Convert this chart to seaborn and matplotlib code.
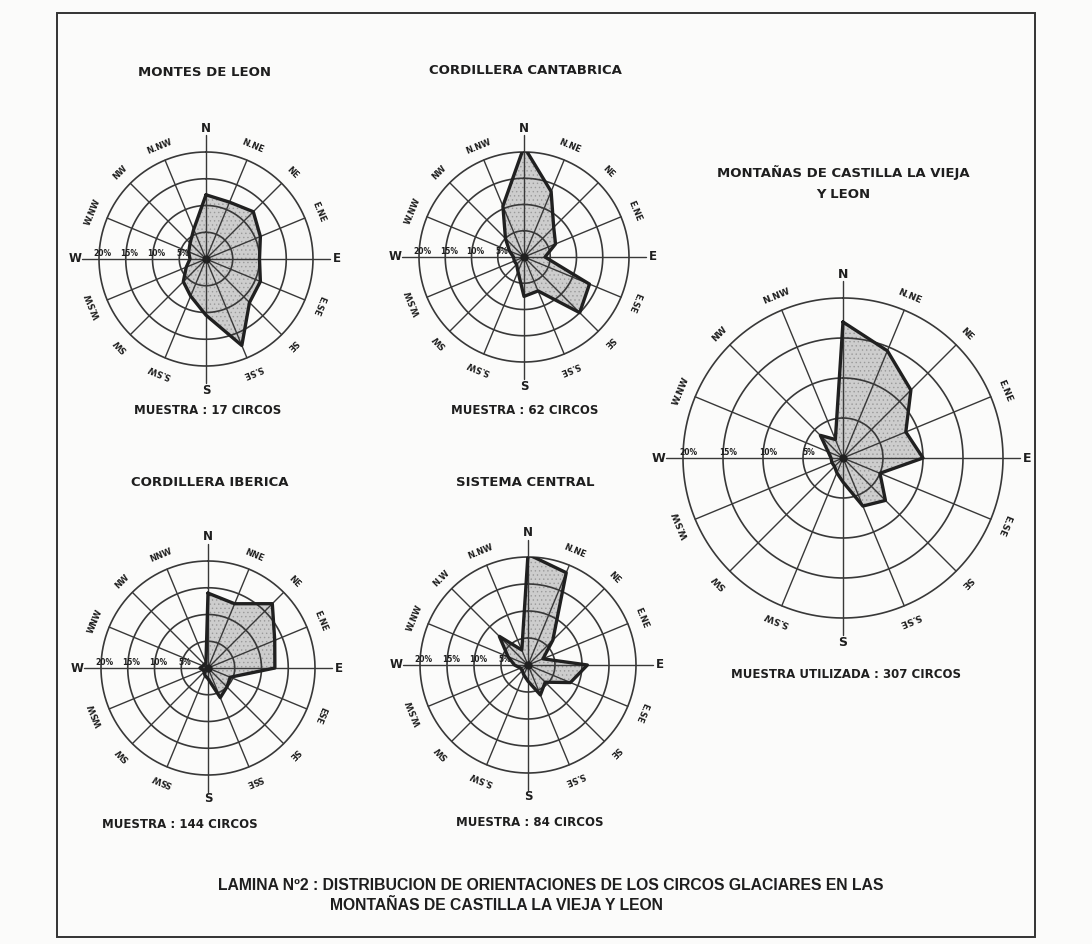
import numpy as np
import matplotlib
matplotlib.use("Agg")
import matplotlib.pyplot as plt
import seaborn as sns

sns.set_style("white")
plt.rcParams["font.family"] = ["DejaVu Sans"]
plt.rcParams["hatch.linewidth"] = 0.5

W, H = 1092, 944

# compass bearings of the 16 sectors, clockwise from north
bearings = np.arange(16) * 22.5
rings = [5, 10, 15, 20]

# percentage of cirques facing each direction (N, NNE, NE, ... NNW)
montes_leon = [12, 11.5, 12.5, 11, 10, 11, 11.5, 17.5, 10.5, 7.5, 6, 4, 3, 3.5, 4.2, 6]
cantabrica = [21, 13.5, 8, 6.5, 4, 13.5, 15, 7, 7.5, 3, 2, 2, 2, 3, 5, 10.5]
castilla_leon = [17, 14.5, 12, 8.5, 10, 5, 7.5, 6.5, 3, 2, 1.5, 1.5, 1.5, 2, 4, 2.5]
iberica = [14, 13, 17, 13.5, 12.5, 4.5, 5, 6, 2, 1.5, 1, 1, 1.5, 1, 1, 1]
sistema_central = [20.5, 18.5, 6.5, 3, 11, 8.5, 4.5, 6, 3, 2, 1.5, 1.5, 2.5, 4, 7.5, 3]

# intermediate direction labels (cardinal points drawn separately)
labels_dot = ["N.NE", "NE", "E.NE", "E.SE", "SE", "S.SE",
              "S.SW", "SW", "W.SW", "W.NW", "NW", "N.NW"]
labels_iberica = ["NNE", "NE", "E.NE", "ESE", "SE", "SSE",
                  "SSW", "SW", "WSW", "WNW", "NW", "NNW"]
labels_central = ["N.NE", "NE", "E.NE", "E.SE", "SE", "S.SE",
                  "S.SW", "SW", "W.SW", "W.NW", "N.W", "N.NW"]
inter_bearings = [b for b in bearings if b % 90 != 0]
cardinals = ["N", "E", "S", "W"]

GRID = "#383838"
EDGE = "#202020"
FILL = "#cdcdcd"
TXT = "#1e1e1e"

fig = plt.figure(figsize=(W / 100, H / 100), dpi=100)
fig.patch.set_facecolor("#fbfbfa")


def fx(x):
    return x / W


def fy(y):
    return 1 - y / H


def rose(cx, cy, R, values, labels, dir_fs=6.0, card_fs=8.5, pct_fs=5.5):
    ax = fig.add_axes([fx(cx - R), fy(cy + R), 2 * R / W, 2 * R / H],
                      projection="polar")
    ax.set_theta_zero_location("N")
    ax.set_theta_direction(-1)
    ax.set_ylim(0, 20)
    ax.grid(False)
    ax.set_xticks([])
    ax.set_yticks([])
    ax.spines["polar"].set_visible(False)
    ax.patch.set_alpha(0)

    def rr(px):
        return 20 * (R + px) / R

    th = np.deg2rad(bearings)
    th_c = np.append(th, 2 * np.pi)
    v_c = np.append(values, values[0])

    # shaded, stippled frequency polygon
    ax.fill(th_c, v_c, facecolor=FILL, edgecolor="#9a9a9a", hatch="....",
            zorder=1, lw=0)

    # concentric rings and 16 spokes
    circ = np.linspace(0, 2 * np.pi, 400)
    for r in rings:
        ax.plot(circ, np.full_like(circ, r), color=GRID, lw=1.2,
                zorder=2, clip_on=False)
    for t in th:
        ax.plot([t, t], [0, 20], color=GRID, lw=1.0, zorder=2, clip_on=False)
    # cardinal axes run past the outer ring
    for t in np.deg2rad([0, 90, 180, 270]):
        ax.plot([t, t], [20, rr(17)], color=GRID, lw=1.0, zorder=2,
                clip_on=False)

    # polygon outline
    sns.lineplot(x=th_c, y=v_c, sort=False, estimator=None, ax=ax,
                 color=EDGE, lw=2.4, zorder=3)
    ax.plot(0, 0, "o", color=EDGE, ms=5, zorder=4)
    ax.set_xlabel("")
    ax.set_ylabel("")

    for b, lab in zip(inter_bearings, labels):
        ax.text(np.deg2rad(b), rr(15), lab, rotation=-b,
                rotation_mode="anchor", ha="center", va="center",
                fontsize=dir_fs, fontweight="bold", color=TXT)
    for b, lab in zip([0, 90, 180, 270], cardinals):
        ax.text(np.deg2rad(b), rr(24), lab, ha="center", va="center",
                fontsize=card_fs, fontweight="bold", color=TXT)
    for r in rings:
        ax.annotate(f"{r}%", xy=(np.deg2rad(270), r - 0.7), xytext=(0, 0.5),
                    textcoords="offset points", ha="center", va="bottom",
                    fontsize=pct_fs, fontweight="bold", color=TXT,
                    annotation_clip=False, zorder=5)
    return ax


def label(x, y, s, fs=9.5, **kw):
    fig.text(fx(x), fy(y), s, ha="center", va="center", fontsize=fs,
             fontweight="bold", color=TXT, **kw)


rose(206, 259, 107, montes_leon, labels_dot)
rose(524, 257, 105, cantabrica, labels_dot)
rose(843, 458, 160, castilla_leon, labels_dot, dir_fs=6.5, card_fs=9)
rose(208, 668, 107, iberica, labels_iberica)
rose(528, 665, 108, sistema_central, labels_central)

label(205, 72, "MONTES DE LEON")
label(525, 71, "CORDILLERA CANTABRICA")
label(843, 172, "MONTAÑAS DE CASTILLA LA VIEJA")
label(843, 194, "Y LEON")
label(210, 482, "CORDILLERA IBERICA")
label(525, 482, "SISTEMA CENTRAL")

label(208, 411, "MUESTRA : 17 CIRCOS", fs=8.5)
label(525, 411, "MUESTRA : 62 CIRCOS", fs=8.5)
label(846, 674, "MUESTRA UTILIZADA : 307 CIRCOS", fs=8.5)
label(180, 825, "MUESTRA : 144 CIRCOS", fs=8.5)
label(530, 823, "MUESTRA : 84 CIRCOS", fs=8.5)

cap = ["Liberation Sans", "DejaVu Sans"]
fig.text(fx(218), fy(886), "LAMINA Nº2 : DISTRIBUCION DE ORIENTACIONES DE LOS CIRCOS GLACIARES EN LAS",
         ha="left", va="center", fontsize=11.3, fontweight="bold",
         family=cap, color=TXT)
fig.text(fx(330), fy(906), "MONTAÑAS DE CASTILLA LA VIEJA Y LEON",
         ha="left", va="center", fontsize=11.3, fontweight="bold",
         family=cap, color=TXT)

# plate frame
frame = plt.Rectangle((fx(57), fy(937)), fx(1035) - fx(57), fy(13) - fy(937),
                      transform=fig.transFigure, fill=False,
                      edgecolor="#333333", lw=1.4)
fig.patches.append(frame)

fig.savefig("out.png", dpi=100)
